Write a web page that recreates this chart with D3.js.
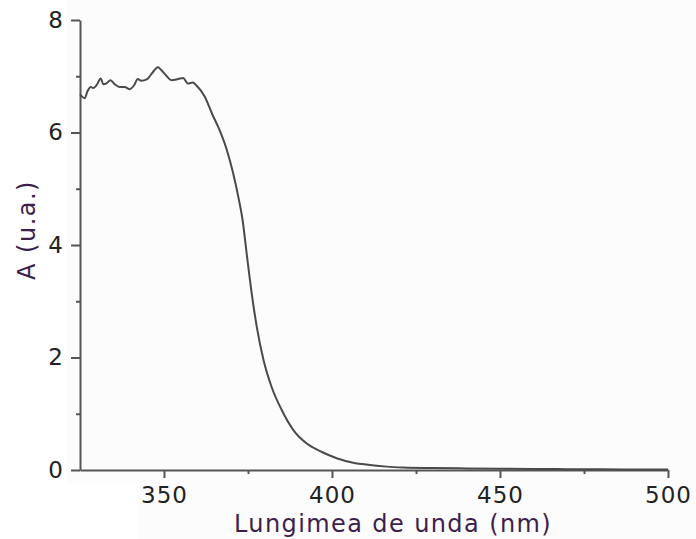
<!DOCTYPE html>
<meta charset="utf-8">
<style>
  body { margin: 0; background: #fcfcfc; font-family: "DejaVu Sans", Verdana, sans-serif; }
</style>
<body>
<script src="https://cdn.jsdelivr.net/npm/d3@7"></script>
<script>
// spectrum
var wavelength = [325, 326.4, 327.2, 328.2, 328.9, 329.9, 331.2, 331.9, 332.8, 334.1, 335.3, 336.8, 338.3, 339.8,
  341.1, 342.2, 343.2, 345, 346.4, 348.2, 349.2, 350.7, 352.2, 354.2, 355.7, 357.1, 358.6, 359.6, 362.1, 364.4,
  366.7, 368.7, 370.6, 372.1, 373.4, 374.6, 376.1, 377.6, 379.6, 382, 385, 388.5, 392.5, 397, 401.4, 406.3,
  411.3, 416.3, 421.2, 430, 440, 450, 460, 470, 480, 490, 500];
var absorb = [6.68, 6.61, 6.73, 6.81, 6.79, 6.84, 6.96, 6.86, 6.87, 6.93, 6.86, 6.81, 6.81, 6.77,
  6.84, 6.95, 6.92, 6.95, 7.05, 7.16, 7.11, 7.01, 6.93, 6.95, 6.97, 6.87, 6.89, 6.84, 6.64, 6.32,
  6.02, 5.69, 5.27, 4.86, 4.44, 3.85, 3.14, 2.55, 1.96, 1.48, 1.07, 0.71, 0.47, 0.32, 0.21, 0.13,
  0.09, 0.06, 0.045, 0.035, 0.028, 0.022, 0.018, 0.015, 0.012, 0.01, 0.008];
var xMajor = [350, 400, 450, 500];
var xMinor = [375, 425, 475];
var yMajor = [0, 2, 4, 6, 8];
var yMinor = [1, 3, 5, 7];

var width = 696, height = 539;
var svg = d3.select("body").append("svg")
  .attr("width", width)
  .attr("height", height);

// slightly whiter margins, as in the picture
svg.append("rect").attr("x", 0).attr("y", 0).attr("width", 67).attr("height", height).attr("fill", "#fff");
svg.append("rect").attr("x", 0).attr("y", 483).attr("width", 137).attr("height", 56).attr("fill", "#fff");

var x = d3.scaleLinear().domain([325, 500]).range([80, 668]);
var y = d3.scaleLinear().domain([0, 8]).range([470, 20]);

var axisColor = "#555";

// minor ticks first
svg.append("g")
  .attr("transform", "translate(0,470)")
  .call(d3.axisBottom(x).tickValues(xMinor).tickSize(4).tickFormat(""))
  .call(function (g) { g.select(".domain").remove(); });
svg.append("g")
  .attr("transform", "translate(80,0)")
  .call(d3.axisLeft(y).tickValues(yMinor).tickSize(4).tickFormat(""))
  .call(function (g) { g.select(".domain").remove(); });

var xAxis = svg.append("g")
  .attr("transform", "translate(0,470)")
  .call(d3.axisBottom(x).tickValues(xMajor).tickSize(8).tickSizeOuter(0).tickPadding(9).tickFormat(d3.format("d")));
var yAxis = svg.append("g")
  .attr("transform", "translate(80,0)")
  .call(d3.axisLeft(y).tickValues(yMajor).tickSize(9).tickSizeOuter(0).tickPadding(7).tickFormat(d3.format("d")));

svg.selectAll(".tick line, .domain").attr("stroke", axisColor).attr("stroke-width", 2);
svg.selectAll(".tick text")
  .attr("fill", "#222")
  .style("font-family", "'DejaVu Sans', Verdana, sans-serif")
  .style("font-size", "23px")
  .style("letter-spacing", "1px");

// the curve
var pts = wavelength.map(function (w, i) { return [w, absorb[i]]; });
var line = d3.line()
  .x(function (d) { return x(d[0]); })
  .y(function (d) { return y(d[1]); })
  .curve(d3.curveMonotoneX);

svg.append("path")
  .datum(pts)
  .attr("d", line)
  .attr("fill", "none")
  .attr("stroke", "#4a4a4a")
  .attr("stroke-width", 2);

// axis titles
svg.append("text")
  .attr("x", 393)
  .attr("y", 532)
  .attr("text-anchor", "middle")
  .attr("fill", "#3d1f4d")
  .style("font-size", "24px")
  .style("letter-spacing", "1.4px")
  .text("Lungimea de unda (nm)");

svg.append("text")
  .attr("transform", "translate(35,230) rotate(-90)")
  .attr("text-anchor", "middle")
  .attr("fill", "#3d1f4d")
  .style("font-size", "24px")
  .style("letter-spacing", "1.5px")
  .text("A (u.a.)");
</script>
</body>
